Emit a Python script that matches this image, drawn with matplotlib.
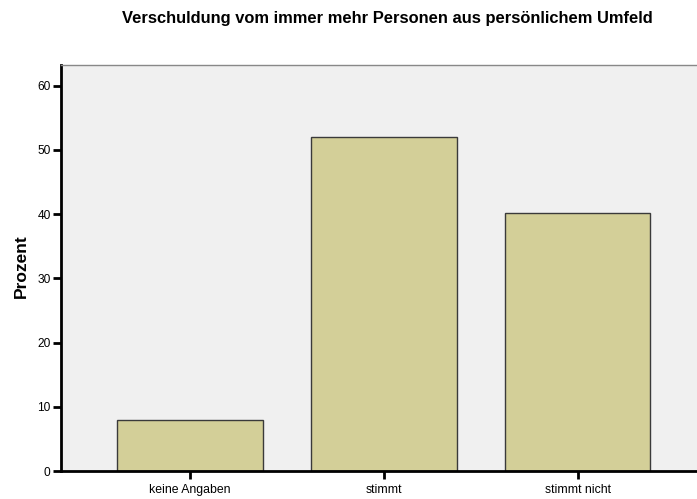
import matplotlib
matplotlib.use("Agg")
import matplotlib.pyplot as plt

categories = ["keine Angaben", "stimmt", "stimmt nicht"]
values = [7.9, 52.0, 40.1]
yticks = [0, 10, 20, 30, 40, 50, 60]

plt.rcParams['font.family'] = ['Liberation Sans', 'DejaVu Sans']

fig = plt.figure(figsize=(6.97, 4.99), dpi=100)
W, H = 697, 499
left, right, top, bottom = 61, 697, 65, 471
ax = fig.add_axes([left / W, 1 - bottom / H, (right - left) / W, (bottom - top) / H])
ax.set_facecolor("#f0f0f0")

x = list(range(len(categories)))
ax.bar(x, values, width=0.75, color="#d3cf98", edgecolor="#3a3a3a", linewidth=1.0, zorder=2)

ax.set_xlim(-0.665, 2.615)
ax.set_ylim(0, 63.2)
ax.set_yticks(yticks)
ax.set_yticklabels([str(v) for v in yticks], fontsize=8.6)
ax.set_xticks(x)
ax.set_xticklabels(categories, fontsize=8.8)
ax.tick_params(axis='y', direction='out', length=6, width=2, color='black', pad=1.5)
ax.tick_params(axis='x', direction='out', length=6, width=2, color='black', pad=3.5)

for s in ['left', 'bottom']:
    ax.spines[s].set_linewidth(2)
    ax.spines[s].set_color('black')
ax.spines['top'].set_color('#888888')
ax.spines['top'].set_linewidth(1)
ax.spines['right'].set_visible(False)

fig.text(21 / W, 1 - 266 / H, "Prozent", rotation=90, ha='center', va='center',
         fontsize=12.5, fontweight='bold')
fig.text(387 / W, 1 - 18 / H, "Verschuldung vom immer mehr Personen aus persönlichem Umfeld",
         ha='center', va='center', fontsize=11.9, fontweight='bold')

fig.savefig("out.png", dpi=100)
